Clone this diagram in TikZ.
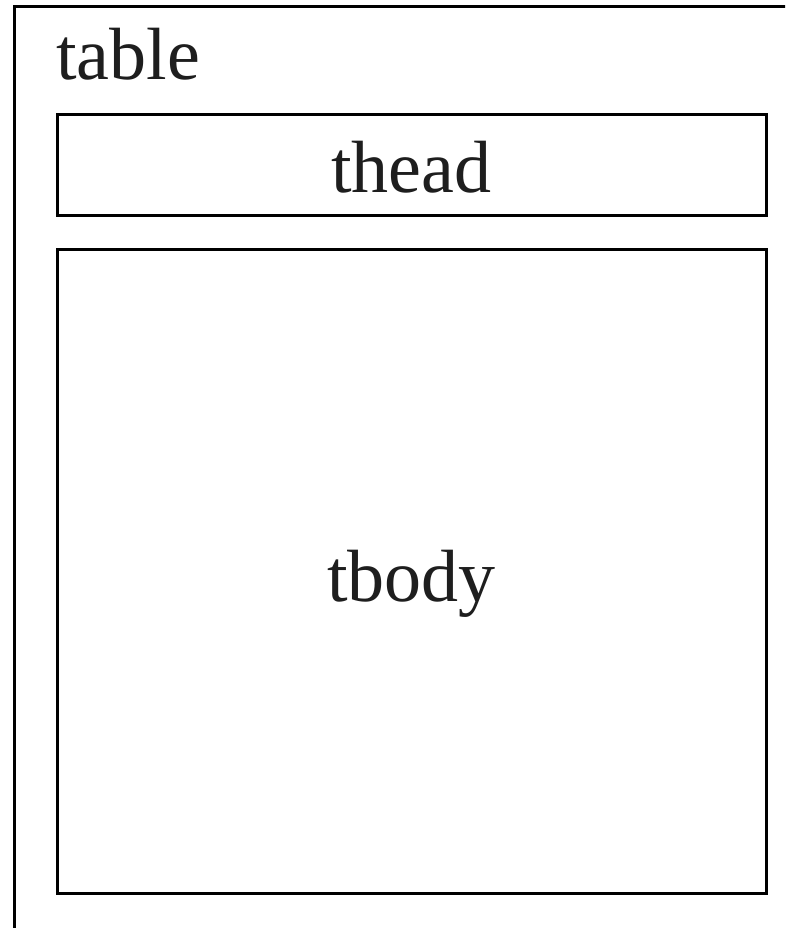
\documentclass[tikz,border=0pt]{standalone}
\usepackage{fontspec}
\setmainfont{Liberation Serif}
\definecolor{inkc}{HTML}{1E1E1E}
\begin{document}
\begin{tikzpicture}[x=1pt,y=-1pt,
  frame/.style={draw=black,line width=3pt},
  lbl/.style={inner sep=0pt,anchor=base,text=inkc,font=\fontsize{74}{80}\selectfont}]
\useasboundingbox (0,0) rectangle (785,928);
\clip (0,0) rectangle (785,928);
\fill[white] (0,0) rectangle (785,928);
\draw[frame] (14.5,6.5) rectangle (820,960);
\draw[frame] (57,114.5) rectangle (766,215);
\draw[frame] (57,249) rectangle (766,893.5);
\node[lbl,anchor=base west] (tablelbl) at (56,80) {table};
\node[lbl] (theadlbl) at (411.5,193) {thead};
\node[lbl] (tbodylbl) at (411.5,601) {tbody};
\end{tikzpicture}
\end{document}
